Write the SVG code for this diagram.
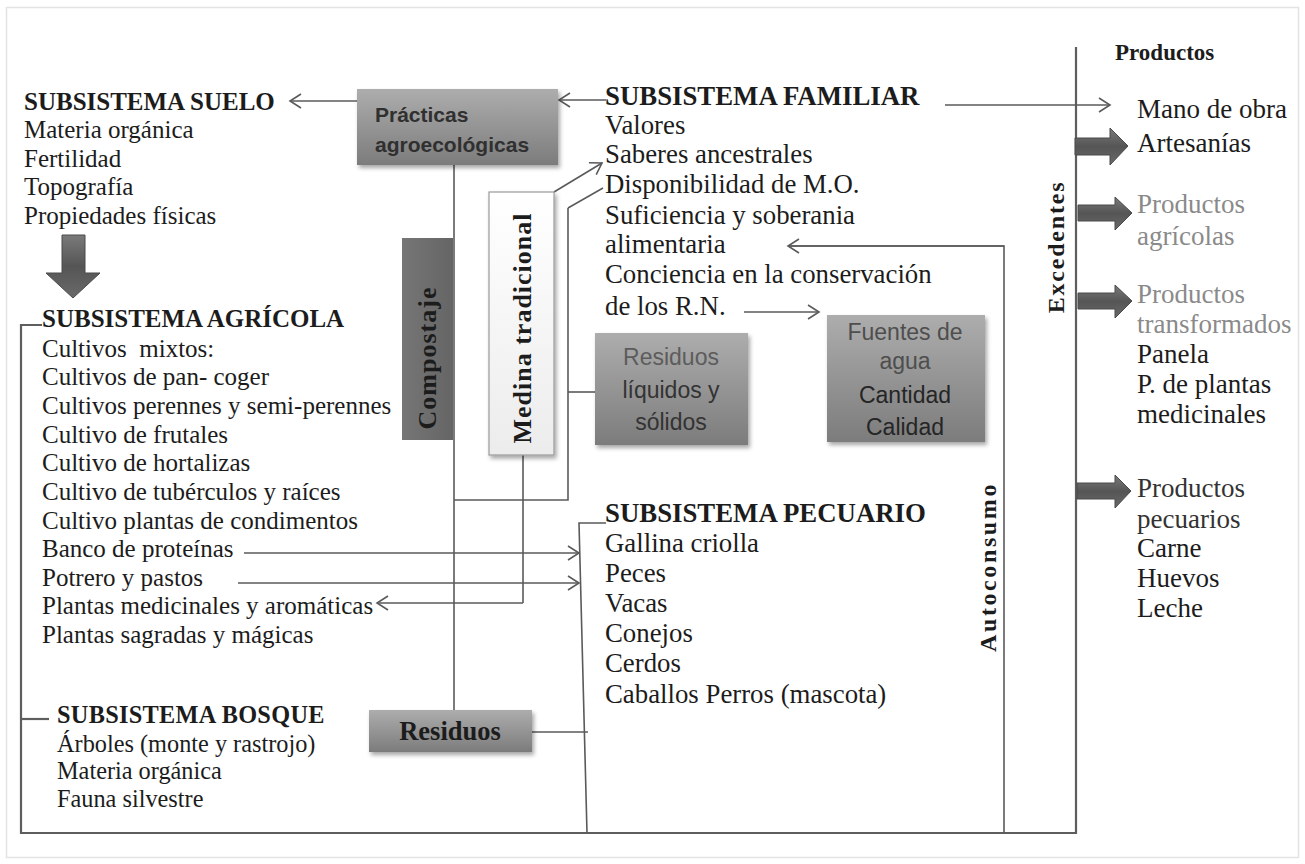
<svg xmlns="http://www.w3.org/2000/svg" width="1305" height="864" viewBox="0 0 1305 864">
<defs>
<style>
.s{font-family:"Liberation Serif","Times New Roman",serif;fill:#1c1c1c}
.b{font-weight:bold}
.l25{font-size:25px}
.l27{font-size:26.8px}
.r27{font-size:27px}
.sans{font-family:"Liberation Sans",Arial,sans-serif}
.ln{stroke:#5a5a5a;stroke-width:1.6;fill:none}
.fr{stroke:#5e5e5e;stroke-width:2.2;fill:none}
.ar{stroke:#5a5a5a;stroke-width:1.6;fill:none;marker-end:url(#ah)}
.gray{fill:#8a8a8a}
.blk{fill:url(#gblk);stroke:#4a4a4a;stroke-width:1}
</style>
<marker id="ah" markerUnits="userSpaceOnUse" markerWidth="14" markerHeight="16" refX="12" refY="8" orient="auto">
<path d="M1,1 L12,8 L1,15" fill="none" stroke="#5a5a5a" stroke-width="1.6"/>
</marker>
<linearGradient id="gbox" x1="0" y1="0" x2="0" y2="1">
<stop offset="0" stop-color="#adadad"/>
<stop offset="1" stop-color="#7c7c7c"/>
</linearGradient>
<linearGradient id="gmed" x1="0" y1="0" x2="0" y2="1">
<stop offset="0" stop-color="#ffffff"/>
<stop offset="1" stop-color="#ececec"/>
</linearGradient>
<linearGradient id="gcomp" x1="0" y1="0" x2="1" y2="0">
<stop offset="0" stop-color="#767676"/>
<stop offset="1" stop-color="#656565"/>
</linearGradient>
<linearGradient id="gblk" x1="0" y1="0" x2="0" y2="1">
<stop offset="0" stop-color="#7a7a7a"/>
<stop offset="0.5" stop-color="#555555"/>
<stop offset="1" stop-color="#6a6a6a"/>
</linearGradient>
<filter id="sh" x="-10%" y="-10%" width="130%" height="130%">
<feDropShadow dx="2" dy="3" stdDeviation="2" flood-color="#000" flood-opacity="0.35"/>
</filter>
</defs>
<rect width="1305" height="864" fill="#ffffff"/>
<rect x="6.5" y="7.5" width="1292" height="850" fill="none" stroke="#e3e3e3" stroke-width="1.5"/>

<!-- connectors -->
<g id="connectors">
<!-- frame lines -->
<polyline class="fr" points="42,325 21,325 21,833 1076,833 1076,47"/>
<line class="fr" x1="21" y1="719" x2="49" y2="719"/>
<polyline class="ln" points="606,523 579,523 587,833"/>
<polyline class="ln" points="788,246 1004,246 1004,833"/>
<!-- arrows -->
<line class="ar" x1="357" y1="101" x2="290" y2="101"/>
<line class="ar" x1="606" y1="100" x2="559" y2="100"/>
<line class="ar" x1="945" y1="105" x2="1110" y2="105"/>
<line class="ar" x1="744" y1="312" x2="819" y2="312"/>
<line class="ar" x1="1004" y1="246" x2="788" y2="246"/>
<line class="ar" x1="554" y1="192" x2="602" y2="163"/>
<line class="ln" x1="568" y1="208" x2="603" y2="188"/>
<line class="ln" x1="454" y1="165" x2="454" y2="710"/>
<polyline class="ln" points="454,500 568,500 568,208"/>
<line class="ln" x1="568" y1="392" x2="595" y2="392"/>
<line class="ln" x1="523" y1="455" x2="523" y2="603"/>
<line class="ar" x1="523" y1="603" x2="377" y2="603"/>
<line class="ar" x1="244" y1="553" x2="579" y2="553"/>
<line class="ar" x1="238" y1="583" x2="579" y2="583"/>
<line class="ln" x1="532" y1="732" x2="588" y2="732"/>
<!-- block arrows -->
<polygon class="blk" points="62,235 85,235 85,273 100,273 73,298 46,273 62,273"/>
<polygon class="blk" points="1075,138 1110,138 1110,128 1128,146 1110,165 1110,155 1075,155"/>
<polygon class="blk" points="1078,205 1115,205 1115,197 1132,213 1115,230 1115,221 1078,221"/>
<polygon class="blk" points="1078,293 1115,293 1115,285 1132,301 1115,318 1115,309 1078,309"/>
<polygon class="blk" points="1077,483 1115,483 1115,475 1131,491 1115,508 1115,499 1077,499"/>
</g>

<g id="suelo" class="s l25">
<text x="24" y="110" class="b">SUBSISTEMA SUELO</text>
<text x="24" y="138">Materia orgánica</text>
<text x="24" y="167">Fertilidad</text>
<text x="24" y="195">Topografía</text>
<text x="24" y="224">Propiedades físicas</text>
</g>

<g id="agricola" class="s l25">
<text x="42" y="327" class="b">SUBSISTEMA AGRÍCOLA</text>
<text x="42" y="357" xml:space="preserve">Cultivos  mixtos:</text>
<text x="42" y="385">Cultivos de pan- coger</text>
<text x="42" y="414">Cultivos perennes y semi-perennes</text>
<text x="42" y="443">Cultivo de frutales</text>
<text x="42" y="471">Cultivo de hortalizas</text>
<text x="42" y="500">Cultivo de tubérculos y raíces</text>
<text x="42" y="529">Cultivo plantas de condimentos</text>
<text x="42" y="557">Banco de proteínas</text>
<text x="42" y="586">Potrero y pastos</text>
<text x="42" y="614">Plantas medicinales y aromáticas</text>
<text x="42" y="643">Plantas sagradas y mágicas</text>
</g>

<g id="bosque" class="s" font-size="24.3">
<text x="57" y="723" class="b" letter-spacing="0.3">SUBSISTEMA BOSQUE</text>
<text x="57" y="752">Árboles (monte y rastrojo)</text>
<text x="57" y="779">Materia orgánica</text>
<text x="57" y="807">Fauna silvestre</text>
</g>

<g id="familiar" class="s l27">
<text x="605" y="105" class="b">SUBSISTEMA FAMILIAR</text>
<text x="605" y="134">Valores</text>
<text x="605" y="163">Saberes ancestrales</text>
<text x="605" y="193">Disponibilidad de M.O.</text>
<text x="605" y="224">Suficiencia y soberania</text>
<text x="605" y="253">alimentaria</text>
<text x="605" y="283">Conciencia en la conservación</text>
<text x="605" y="315">de los R.N.</text>
</g>

<g id="pecuario" class="s l27">
<text x="605" y="522" class="b">SUBSISTEMA PECUARIO</text>
<text x="605" y="552">Gallina criolla</text>
<text x="605" y="582">Peces</text>
<text x="605" y="612">Vacas</text>
<text x="605" y="642">Conejos</text>
<text x="605" y="672">Cerdos</text>
<text x="605" y="703">Caballos Perros (mascota)</text>
</g>

<g id="practicas">
<rect x="357" y="89" width="201" height="76" fill="url(#gbox)" filter="url(#sh)"/>
<text x="375" y="122" class="sans b" font-size="21" fill="#303030">Prácticas</text>
<text x="375" y="152" class="sans b" font-size="21" fill="#303030">agroecológicas</text>
</g>

<g id="compostaje">
<rect x="402" y="238" width="51" height="202" fill="url(#gcomp)"/>
<text transform="translate(427,358) rotate(-90)" y="9" text-anchor="middle" class="s b" font-size="26" letter-spacing="1" fill="#2a2a2a">Compostaje</text>
</g>

<g id="medina">
<rect x="489" y="192" width="65" height="263" fill="url(#gmed)" stroke="#9a9a9a" stroke-width="1.2" filter="url(#sh)"/>
<text transform="translate(522,328) rotate(-90)" y="9" text-anchor="middle" class="s b" font-size="26" letter-spacing="1">Medina tradicional</text>
</g>

<g id="residuos-liquidos">
<rect x="595" y="333" width="153" height="112" fill="url(#gbox)" filter="url(#sh)"/>
<text x="671" y="365" text-anchor="middle" class="sans" font-size="23" fill="#5c5c5c">Residuos</text>
<text x="671" y="398" text-anchor="middle" class="sans" font-size="23" fill="#333">líquidos y</text>
<text x="671" y="430" text-anchor="middle" class="sans" font-size="23" fill="#333">sólidos</text>
</g>

<g id="fuentes">
<rect x="827" y="315" width="158" height="127" fill="url(#gbox)" filter="url(#sh)"/>
<text x="905" y="340" text-anchor="middle" class="sans" font-size="23" fill="#4e4e4e">Fuentes de</text>
<text x="905" y="369" text-anchor="middle" class="sans" font-size="23" fill="#4e4e4e">agua</text>
<text x="905" y="403" text-anchor="middle" class="sans" font-size="23" fill="#252525">Cantidad</text>
<text x="905" y="435" text-anchor="middle" class="sans" font-size="23" fill="#252525">Calidad</text>
</g>

<g id="residuos">
<rect x="369" y="710" width="163" height="42" fill="url(#gbox)" filter="url(#sh)"/>
<text x="450" y="740" text-anchor="middle" class="s b" font-size="26.5" fill="#222">Residuos</text>
</g>

<g id="autoconsumo">
<text transform="translate(987,567) rotate(-90)" y="9" text-anchor="middle" class="s b" font-size="24" letter-spacing="2.6">Autoconsumo</text>
</g>

<g id="excedentes">
<text transform="translate(1055,247) rotate(-90)" y="9" text-anchor="middle" class="s b" font-size="24" letter-spacing="1.8">Excedentes</text>
</g>

<g id="productos" class="s r27">
<text x="1115" y="60" class="b" font-size="23">Productos</text>
<text x="1137" y="118">Mano de obra</text>
<text x="1137" y="152">Artesanías</text>
<text x="1137" y="213" class="gray">Productos</text>
<text x="1137" y="245" class="gray">agrícolas</text>
<text x="1137" y="303" class="gray">Productos</text>
<text x="1137" y="333" class="gray">transformados</text>
<text x="1137" y="363">Panela</text>
<text x="1137" y="393">P. de plantas</text>
<text x="1137" y="423">medicinales</text>
<text x="1137" y="497" fill="#333">Productos</text>
<text x="1137" y="528" fill="#333">pecuarios</text>
<text x="1137" y="557">Carne</text>
<text x="1137" y="587">Huevos</text>
<text x="1137" y="617">Leche</text>
</g>
</svg>
